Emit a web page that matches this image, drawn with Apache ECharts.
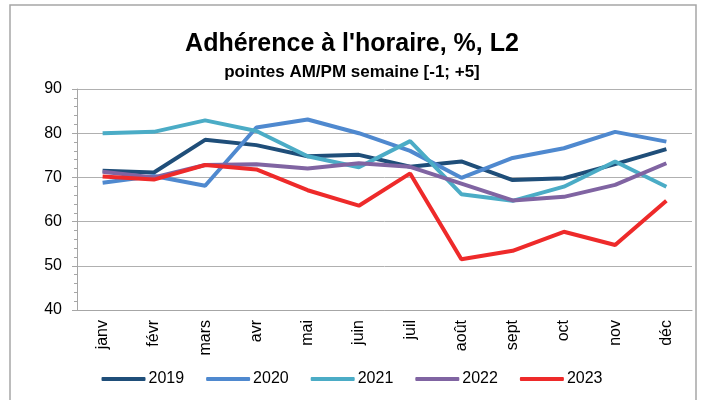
<!DOCTYPE html>
<html>
<head>
<meta charset="utf-8">
<script src="https://cdn.jsdelivr.net/npm/echarts@6/dist/echarts.min.js"></script>
<style>
  html, body { margin: 0; padding: 0; background: #fff; }
  #chart { width: 704px; height: 400px; }
</style>
</head>
<body>
<div id="chart"></div>
<script>
const months = ["janv", "févr", "mars", "avr", "mai", "juin", "juil", "août", "sept", "oct", "nov", "déc"];
const years = ["2019", "2020", "2021", "2022", "2023"];
const colors = ["#1f4e79", "#4f89cf", "#4bacc6", "#8064a2", "#ee2a2a"];

const v2019 = [71.5, 71.1, 78.5, 77.3, 74.8, 75.1, 72.4, 73.6, 69.4, 69.8, 73.0, 76.4];
const v2020 = [68.8, 70.3, 68.1, 81.3, 83.1, 80.0, 76.0, 69.9, 74.4, 76.6, 80.3, 78.1];
const v2021 = [80.0, 80.3, 82.9, 80.5, 74.8, 72.3, 78.2, 66.2, 64.7, 67.9, 73.6, 67.9];
const v2022 = [71.3, 70.0, 72.8, 73.0, 72.0, 73.2, 72.4, 68.6, 64.8, 65.6, 68.3, 73.2];
const v2023 = [70.2, 69.5, 72.8, 71.8, 67.1, 63.6, 70.9, 51.5, 53.4, 57.7, 54.7, 64.7];
const seriesValues = [v2019, v2020, v2021, v2022, v2023];

const font = "Liberation Sans, sans-serif";

const chart = echarts.init(document.getElementById("chart"));
chart.setOption({
  animation: false,
  color: colors,
  title: [
    {
      text: "Adhérence à l'horaire, %, L2",
      left: "center",
      top: 27,
      textStyle: { fontFamily: font, fontSize: 25, fontWeight: "bold", color: "#000" }
    },
    {
      text: "pointes AM/PM semaine [-1; +5]",
      left: "center",
      top: 59,
      textStyle: { fontFamily: font, fontSize: 17, fontWeight: "bold", color: "#000" }
    }
  ],
  graphic: [{
    type: "rect",
    shape: { x: 10, y: 5, width: 686, height: 400 },
    style: { fill: "none", stroke: "#a6a6a6", lineWidth: 1.5 },
    silent: true
  }],
  legend: {
    bottom: 8,
    left: "center",
    itemWidth: 44,
    itemHeight: 4,
    itemGap: 22,
    icon: "roundRect",
    textStyle: { fontFamily: font, fontSize: 16, color: "#000", padding: [0, 0, 0, -2] },
    data: years
  },
  grid: { left: 77, right: 12, top: 89, bottom: 90 },
  xAxis: {
    type: "category",
    data: months,
    boundaryGap: true,
    axisLine: { lineStyle: { color: "#a6a6a6" } },
    axisTick: { length: 5, lineStyle: { color: "#a6a6a6" } },
    axisLabel: { rotate: 90, fontFamily: font, fontSize: 16, color: "#000", margin: 10 }
  },
  yAxis: {
    type: "value",
    min: 40,
    max: 90,
    interval: 10,
    axisLine: { show: true, lineStyle: { color: "#a6a6a6" } },
    axisTick: { show: true, length: 5, lineStyle: { color: "#a6a6a6" } },
    minorTick: { show: true, splitNumber: 5, length: 3, lineStyle: { color: "#a6a6a6" } },
    splitLine: { lineStyle: { color: "#b0b0b0" } },
    axisLabel: { fontFamily: font, fontSize: 16, color: "#000", margin: 15 }
  },
  series: years.map((y, i) => ({
    name: y,
    type: "line",
    data: seriesValues[i],
    symbol: "none",
    lineStyle: { width: 4, color: colors[i] },
    itemStyle: { color: colors[i] }
  }))
});
</script>
</body>
</html>
